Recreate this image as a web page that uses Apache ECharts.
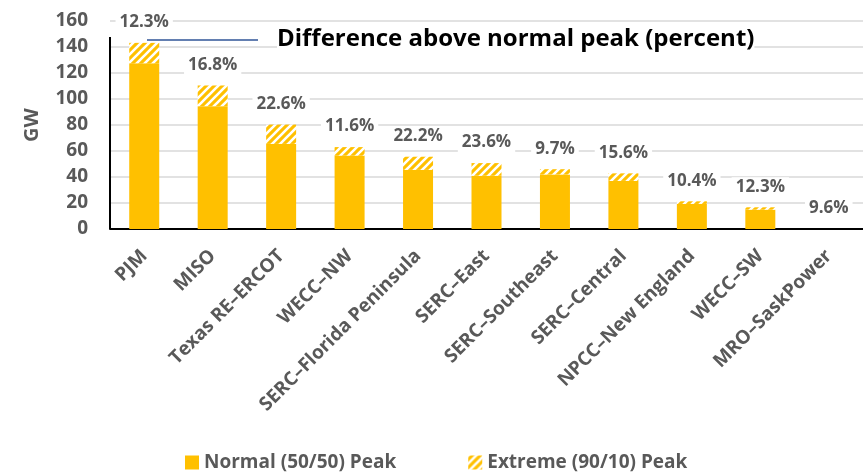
<!DOCTYPE html>
<html>
<head>
<meta charset="utf-8">
<script src="https://cdn.jsdelivr.net/npm/echarts@6/dist/echarts.min.js"></script>
<style>
html, body { margin: 0; padding: 0; background: #fff; }
#main { width: 863px; height: 474px; }
</style>
</head>
<body>
<div id="main"></div>
<script>
var regions = ['PJM', 'MISO', 'Texas RE\u2013ERCOT', 'WECC\u2013NW', 'SERC\u2013Florida Peninsula',
    'SERC\u2013East', 'SERC\u2013Southeast', 'SERC\u2013Central', 'NPCC\u2013New England',
    'WECC\u2013SW', 'MRO\u2013SaskPower'];
// GW
var normalPeak  = [127.5, 94.5, 65.5, 56.5, 45.5, 41.0, 42.0, 37.0, 19.3, 14.9, 0];
var extremePeak = [143.2, 110.4, 80.3, 63.0, 55.6, 50.7, 46.0, 42.8, 21.3, 16.7, 0];
var pctAbove = ['12.3%', '16.8%', '22.6%', '11.6%', '22.2%', '23.6%', '9.7%', '15.6%', '10.4%', '12.3%', '9.6%'];
var yTicks = [0, 20, 40, 60, 80, 100, 120, 140, 160];

var extraPart = extremePeak.map(function (v, i) { return +(v - normalPeak[i]).toFixed(1); });

// hatch pattern: white "/" stripes on orange
var pat = document.createElement('canvas');
pat.width = 8; pat.height = 8;
var ctx = pat.getContext('2d');
ctx.fillStyle = '#FFC000';
ctx.fillRect(0, 0, 8, 8);
ctx.strokeStyle = '#ffffff';
ctx.lineWidth = 2.6;
ctx.beginPath();
ctx.moveTo(-2, 10); ctx.lineTo(10, -2);
ctx.moveTo(-6, 6); ctx.lineTo(6, -6);
ctx.moveTo(2, 14); ctx.lineTo(14, 2);
ctx.stroke();

var font = '"Open Sans", Lato, sans-serif';
var grey = '#595959';

var dom = document.getElementById('main');
var myChart = echarts.init(dom, null, { renderer: 'canvas' });

var option = {
    animation: false,
    textStyle: { fontFamily: font },
    grid: { left: 110, top: 21, width: 776, height: 208 },
    legend: {
        left: 180,
        top: 448,
        itemWidth: 14,
        itemHeight: 14,
        itemGap: 72,
        textStyle: { fontSize: 19, fontWeight: 'bold', color: grey, fontFamily: font },
        data: [
            { name: 'Normal (50/50) Peak', icon: 'rect' },
            { name: 'Extreme (90/10) Peak', icon: 'rect' }
        ]
    },
    xAxis: {
        type: 'category',
        data: regions,
        axisLine: { lineStyle: { color: '#000', width: 2 } },
        axisTick: { show: false },
        axisLabel: {
            interval: 0,
            rotate: 45,
            margin: 24,
            fontSize: 19,
            fontWeight: 'bold',
            color: grey
        }
    },
    yAxis: {
        type: 'value',
        min: yTicks[0],
        max: yTicks[yTicks.length - 1],
        interval: 20,
        name: 'GW',
        nameLocation: 'middle',
        nameGap: 68,
        nameTextStyle: { fontSize: 20, fontWeight: 'bold', color: grey },
        axisLine: { show: false },
        axisTick: { show: false },
        axisLabel: { fontSize: 19, fontWeight: 'bold', color: grey, margin: 22 },
        splitLine: { lineStyle: { color: '#d9d9d9', width: 1.5 } }
    },
    series: [
        {
            name: 'Normal (50/50) Peak',
            type: 'bar',
            stack: 'peak',
            barWidth: 30,
            itemStyle: { color: '#FFC000' },
            data: normalPeak
        },
        {
            name: 'Extreme (90/10) Peak',
            type: 'bar',
            stack: 'peak',
            barWidth: 30,
            itemStyle: { color: { image: pat, repeat: 'repeat' } },
            label: {
                show: true,
                position: 'top',
                distance: 11,
                fontSize: 17,
                fontWeight: 'bold',
                color: grey,
                backgroundColor: '#fff',
                padding: [1, 4],
                formatter: function (p) { return pctAbove[p.dataIndex]; }
            },
            data: extraPart
        }
    ],
    graphic: [
        {
            type: 'line',
            shape: { x1: 110, y1: 37, x2: 110, y2: 229 },
            style: { stroke: '#000', lineWidth: 2 },
            z: 10
        },
        {
            type: 'line',
            shape: { x1: 147, y1: 40, x2: 258, y2: 40 },
            style: { stroke: '#2F5597', lineWidth: 1.5 },
            z: 10
        },
        {
            type: 'text',
            left: 277,
            top: 27,
            z: 10,
            style: {
                text: 'Difference above normal peak (percent)',
                fontSize: 24,
                fontWeight: 'bold',
                fontFamily: font,
                fill: '#000',
                backgroundColor: '#fff'
            }
        }
    ]
};

if (option && typeof option === 'object') {
    myChart.setOption(option, true);
}
window.onresize = myChart.resize;
</script>
</body>
</html>
